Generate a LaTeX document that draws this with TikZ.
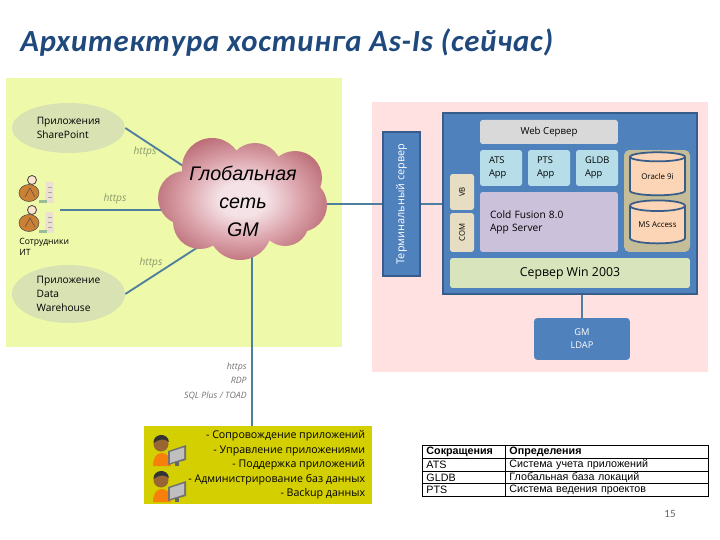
\documentclass[tikz,border=0pt]{standalone}
\usepackage{fontspec}
\setmainfont{Open Sans}
\newfontfamily\carlito[LetterSpace=2.5]{Carlito}
\newfontfamily\arialfont{Liberation Sans}
\usetikzlibrary{shapes.geometric}
\usetikzlibrary{backgrounds}
\usetikzlibrary{calc}

\definecolor{titleblue}{HTML}{1F497D}
\definecolor{panelyellow}{HTML}{EEF9A9}
\definecolor{panelpink}{HTML}{FFE1E1}
\definecolor{appgreen}{HTML}{D9E2B3}
\definecolor{linkblue}{HTML}{4F7F9F}
\definecolor{srvblue}{HTML}{4F81BD}
\definecolor{srvedge}{HTML}{385D8A}
\definecolor{appblue}{HTML}{B7DDE8}
\definecolor{cfviolet}{HTML}{CCC1DA}
\definecolor{combeige}{HTML}{E6DDC3}
\definecolor{dbtan}{HTML}{C4BD97}
\definecolor{dbpeach}{HTML}{FBD5B5}
\definecolor{winleaf}{HTML}{D7E4BC}
\definecolor{staffyellow}{HTML}{D4CF00}
\definecolor{httpsgrey}{HTML}{8B9A6E}
\definecolor{cloudedge}{HTML}{BC6E77}
\definecolor{cloudmid}{HTML}{DCA4AC}
\definecolor{cloudcore}{HTML}{F4E2E6}

\pgfdeclareradialshading{cloudglow}{\pgfpoint{0bp}{0bp}}{
  color(0bp)=(cloudcore); color(7bp)=(cloudcore); color(17bp)=(cloudmid);
  color(27bp)=(cloudedge); color(50bp)=(cloudedge)}

\tikzset{
  txt/.style={font=\fontsize{5.3}{7.4}\selectfont, inner sep=0pt},
  srvbox/.style={rectangle, rounded corners=1.5pt, inner sep=0pt, txt},
  appoval/.style={ellipse, fill=appgreen, inner sep=0pt, align=left,
    font=\fontsize{5.8}{7.9}\selectfont, minimum width=2.26cm},
  link/.style={draw=linkblue, line width=1.05pt},
  proto/.style={font=\itshape\fontsize{5.8}{6}\selectfont, text=httpsgrey, inner sep=0pt},
  access/.style={font=\itshape\fontsize{5}{6}\selectfont, text=black!55, inner sep=0pt, anchor=east},
  dbcyl/.style={cylinder, shape border rotate=90, aspect=0.28, draw=srvedge,
    line width=1pt, cylinder uses custom fill, cylinder body fill=dbpeach,
    cylinder end fill=dbpeach, minimum width=1.1cm, minimum height=0.86cm,
    inner sep=0pt, font=\fontsize{4.5}{5}\selectfont},
  tabcell/.style={draw, line width=0.55pt, anchor=west, minimum height=0.255cm, inner xsep=0.08cm,
    inner ysep=0pt, font=\arialfont\fontsize{6.1}{6.4}\selectfont, align=left},
  % employee with papers, top left corner at the origin of the pic
  clerk/.pic={
    \fill[black!8!white!90!orange] (27,7) -- (34,7) -- (35,28) -- (26,28) -- cycle;
    \draw[black!35, line width=0.3pt] (29,12) -- (33,12) (29,17) -- (33,17) (29,22) -- (33,22);
    \fill[brown!80!orange] (10,18) ellipse [x radius=10, y radius=8.5];
    \draw[black!70, line width=0.3pt] (10,18) ellipse [x radius=10, y radius=8.5];
    \fill[orange!20!white] (13,5) circle [radius=4.5];
    \draw[black!70, line width=0.5pt] (13,5) circle [radius=4.5];
    \draw[black!70, line width=0.3pt] (6,22) -- (11,13) -- (16,22);
    \fill[green!35!black!40] (20,25) rectangle (28,28);
  },
  % administrator at a monitor, top left corner at the origin of the pic
  admin/.pic={
    \fill[orange!85!brown] (0,33) .. controls (0,24) and (4,20) .. (9,20)
      .. controls (14,20) and (18,24) .. (18,33) -- cycle;
    \fill[brown!80!black] (8,11) circle [radius=7.5];
    \fill[black!80] (0.5,10) .. controls (0,0) and (15,-1) .. (16,9)
      .. controls (11,5) and (6,6) .. (0.5,10) -- cycle;
    \fill[black!55] (15,18) -- (33,12) -- (33,27) -- (15,32) -- cycle;
    \fill[black!25] (17,19) -- (31,14.5) -- (31,25.5) -- (17,30) -- cycle;
    \fill[black!60] (22,29) rectangle (26,33);
  },
}

\begin{document}
\begin{tikzpicture}[x=0.02cm,y=-0.02cm]

  \useasboundingbox (0,0) rectangle (720,540);

  % Title
  \node[anchor=base west, inner sep=0pt, text=titleblue,
    font=\carlito\itshape\bfseries\fontsize{17.5}{20}\selectfont]
    (title) at (20,52) {Архитектура хостинга As-Is (сейчас)};

  % Panels
  \begin{scope}[on background layer]
    \fill[panelyellow] (6,78) rectangle (342,347);
    \fill[panelpink] (372,102) rectangle (708,372);
  \end{scope}

  % Left panel
  \node[appoval, minimum height=1.0cm] (sharepoint) at (68.5,128) {Приложения\\SharePoint};
  \node[appoval, minimum height=1.16cm] (warehouse) at (68.5,294) {Приложение\\Data\\Warehouse};

  % Cloud made of overlapping puffs
  \shade[shading=cloudglow]
    (212,168) circle [radius=30] (255,170) circle [radius=27] (295,178) circle [radius=27]
    (300,205) circle [radius=27] (285,222) circle [radius=24] (240,228) circle [radius=32]
    (200,222) circle [radius=27] (185,198) circle [radius=27] (243,198) circle [radius=45];
  \node[inner sep=0pt, align=center, font=\arialfont\itshape\fontsize{11.2}{16}\selectfont] (cloud)
    at (243,201) {Глобальная\\сеть\\GM};

  \pic at (19,175) {clerk};
  \pic at (19,205) {clerk};
  \coordinate (clerks) at (60,210);
  \node[anchor=north west, inner sep=0pt, align=left, font=\fontsize{4.9}{6.2}\selectfont] (clerkname)
    at (19,238) {Сотрудники\\ИТ};

  \node[proto] (pshare) at (145,152) {https};
  \node[proto] (pclerk) at (115,199) {https};
  \node[proto] (pware) at (151,263) {https};

  % Server side
  \node[srvbox, rounded corners=0pt, fill=srvblue, draw=srvedge, line width=1.1pt, text=white,
    minimum width=0.74cm, minimum height=2.88cm] (terminal) at (401.5,204)
    {\rotatebox{90}{\fontsize{6.2}{7}\selectfont Терминальный сервер}};
  \node[srvbox, rounded corners=0pt, fill=srvblue, draw=srvedge, line width=1.1pt,
    minimum width=5.08cm, minimum height=3.62cm] (server) at (570,203.5) {};
  \node[srvbox, fill=black!15, minimum width=2.76cm, minimum height=0.48cm,
    font=\fontsize{5.5}{7}\selectfont] (web) at (549,132) {Web Сервер};
  \node[srvbox, fill=appblue, minimum width=0.84cm, minimum height=0.72cm, align=left, text width=0.48cm,
    inner xsep=0.18cm] (ats) at (501,168) {ATS\\App};
  \node[srvbox, fill=appblue, minimum width=0.84cm, minimum height=0.72cm, align=left, text width=0.48cm,
    inner xsep=0.18cm] (pts) at (549,168) {PTS\\App};
  \node[srvbox, fill=appblue, minimum width=0.84cm, minimum height=0.72cm, align=left, text width=0.48cm,
    inner xsep=0.18cm] (gldb) at (597,168) {GLDB\\App};
  \node[srvbox, fill=cfviolet, minimum width=2.76cm, minimum height=1.2cm, align=left, text width=2.36cm,
    inner xsep=0.2cm] (coldfusion) at (549,222) {\fontsize{5.8}{8}\selectfont Cold Fusion 8.0\\App Server};
  \node[srvbox, fill=combeige, minimum width=0.48cm, minimum height=0.72cm] (vb) at (462,192)
    {\rotatebox{90}{\fontsize{4.4}{5}\selectfont VB}};
  \node[srvbox, fill=combeige, minimum width=0.48cm, minimum height=0.78cm] (com) at (462,232.5)
    {\rotatebox{90}{\fontsize{4.4}{5}\selectfont COM}};
  \node[srvbox, fill=dbtan, rounded corners=3pt, minimum width=1.32cm, minimum height=2.04cm] (dbs) at (657,201) {};
  \node[dbcyl] (oracle) at (657.5,176.5) {Oracle 9i};
  \node[dbcyl] (msaccess) at (657.5,225) {MS Access};
  \node[srvbox, fill=winleaf, minimum width=4.8cm, minimum height=0.6cm,
    font=\fontsize{7}{8}\selectfont] (win) at (570,273) {Сервер Win 2003};
  \node[srvbox, fill=srvblue, rounded corners=2pt, text=white, align=center, minimum width=1.92cm,
    minimum height=0.84cm] (ldap) at (582,339) {GM\\LDAP};

  % Support team
  \node[inner sep=0pt, fill=staffyellow, minimum width=4.56cm, minimum height=1.56cm] (staff) at (258,465) {};
  \node[inner sep=0pt, anchor=east, align=right, font=\fontsize{6.05}{8.25}\selectfont] (tasks) at (365.5,465)
    {- Сопровождение приложений\\- Управление приложениями\\- Поддержка приложений\\
     - Администрирование баз данных\\- Backup данных};
  \pic at (153,433) {admin};
  \pic at (153,469) {admin};
  \coordinate (stafftop) at (252,426);

  \node[access] (phttps) at (247,367) {https};
  \node[access] (prdp) at (247,380) {RDP};
  \node[access] (psql) at (247,396) {SQL Plus / TOAD};

  % Connectors
  \begin{scope}[on background layer]
    \draw[link] (sharepoint.east) -- (cloud.150);
    \draw[link] (clerks) -- (clerks -| cloud.west);
    \draw[link] (warehouse.east) -- (cloud.231);
    \draw[link] (cloud.east |- terminal.west) -- (terminal.west);
    \draw[link] (stafftop |- cloud.south) -- (stafftop);
    \draw[link] (terminal.east) -- (terminal.east -| server.west);
    \draw[link] (ldap.north) -- (ldap.north |- server.south);
  \end{scope}

  % Glossary
  \foreach \rowy/\rown/\abbr/\defn in {452.3/0/{\bfseries Сокращения}/{\bfseries Определения},
                                 464.9/1/ATS/Система учета приложений,
                                 477.5/2/GLDB/Глобальная база локаций,
                                 490.1/3/PTS/Система ведения проектов} {
    \node[tabcell, minimum width=1.66cm, text width=1.5cm] (abbr\rown) at (422,\rowy) {\abbr};
    \node[tabcell, minimum width=4.06cm, text width=3.9cm] (defn\rown) at (505,\rowy) {\defn};
  }

  \node[inner sep=0pt, text=black!60, font=\carlito\fontsize{6.3}{7}\selectfont] (pageno) at (670,514) {15};

\end{tikzpicture}
\end{document}
